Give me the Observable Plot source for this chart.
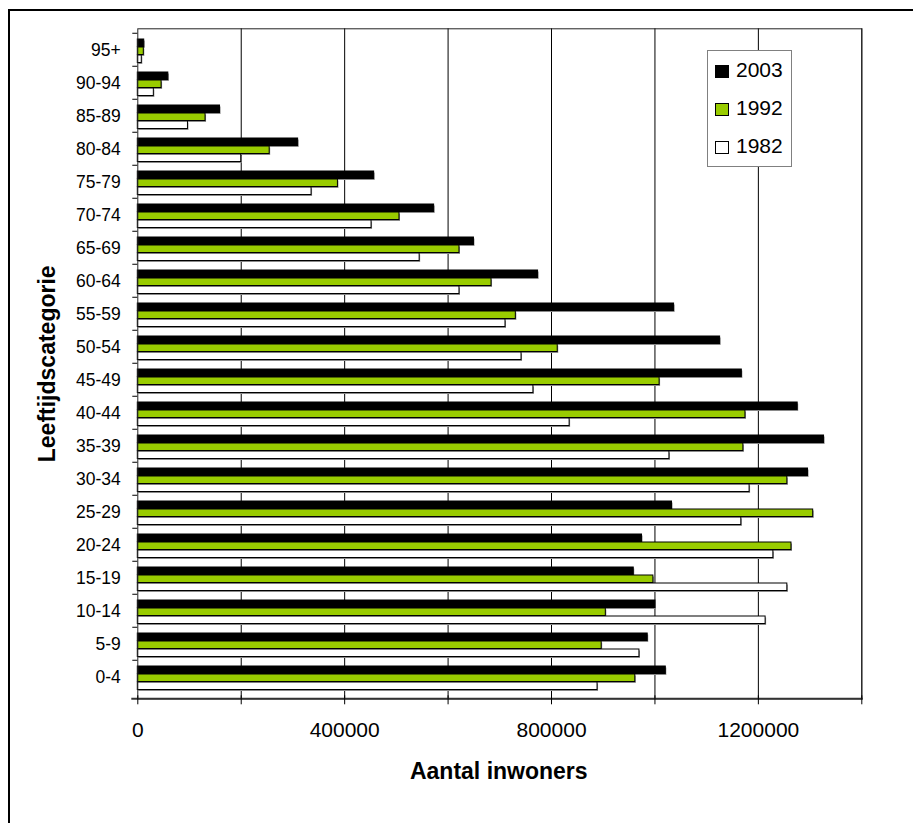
<!DOCTYPE html>
<html>
<head>
<meta charset="utf-8">
<script src="https://cdn.jsdelivr.net/npm/d3@7"></script>
<script src="https://cdn.jsdelivr.net/npm/@observablehq/plot@0.6"></script>
<style>
  html, body { margin: 0; padding: 0; background: #fff; overflow: hidden; }
  #chart { position: relative; width: 913px; height: 823px; font-family: "Liberation Sans", Arial, sans-serif; }
  #plot svg { display: block; }
  #border { position: absolute; left: 8px; top: 9px; width: 1000px; height: 1000px;
            border: 2.5px solid #000; box-sizing: border-box; pointer-events: none; }
  .legend { position: absolute; left: 707px; top: 50px; width: 85px; height: 117px;
            box-sizing: border-box; border: 1px solid #808080; background: #fff; }
  .legend .row { position: absolute; left: 0; height: 24px; line-height: 24px; font-size: 21px; color: #000; white-space: nowrap; }
  .legend .sw { position: absolute; left: 7px; top: 7px; width: 14px; height: 13px; box-sizing: border-box; border: 1px solid #000; }
  .legend .lab { position: absolute; left: 28px; top: 0; }
</style>
</head>
<body>
<div id="chart">
  <div id="plot"></div>
  <div class="legend" id="legend"></div>
  <div id="border"></div>
</div>
<script>
// Age groups, bottom to top
const ages = ["0-4", "5-9", "10-14", "15-19", "20-24", "25-29", "30-34", "35-39", "40-44", "45-49",
              "50-54", "55-59", "60-64", "65-69", "70-74", "75-79", "80-84", "85-89", "90-94", "95+"];

// Series, in the order they are stacked inside each age group (top to bottom)
const years = ["2003", "1992", "1982"];
const yearColors = ["#000000", "#99cc00", "#ffffff"];

// Number of inhabitants per age group
const pop2003 = [1021000, 986000, 1001000, 959000, 975000, 1033000, 1296000, 1327000, 1276000, 1168000,
                 1126000, 1037000, 774000, 650000, 573000, 457000, 310000, 159000, 59000, 12400];
const pop1992 = [962000, 897000, 905000, 997000, 1264000, 1306000, 1256000, 1171000, 1175000, 1009000,
                 812000, 731000, 684000, 622000, 506000, 387000, 255000, 131000, 46000, 11600];
const pop1982 = [889000, 970000, 1214000, 1256000, 1229000, 1167000, 1183000, 1028000, 835000, 765000,
                 742000, 711000, 622000, 545000, 452000, 336000, 200000, 97000, 31000, 7700];

// Axis ticks
const xTickLabels = [0, 400000, 800000, 1200000];
const xGrid = [200000, 400000, 600000, 800000, 1000000, 1200000, 1400000];
const xTicks = [0, ...xGrid];

const series = [pop2003, pop1992, pop1982];
const rows = years.map((year, k) => ages.map((age, i) => ({age, year, value: series[k][i]})));

// Layout
const W = 913, H = 823;
const mt = 28.3, mr = 51.7, mb = 124.7, ml = 137.3;
const step = (H - mt - mb) / ages.length;   // height of one age band
const lead = 6, barH = 8;                    // offset of the first bar and bar thickness

const barMarks = rows.flatMap((data, k) => {
  const inset = {insetTop: lead + barH * k, insetBottom: step - lead - barH * (k + 1)};
  return [
    Plot.barX(data, {y: "age", x: "value", fill: "#8a8a8a", dx: 1, dy: 1.5, ...inset}),
    Plot.barX(data, {y: "age", x: "value", fill: yearColors[k], stroke: "#000", strokeWidth: 1, ...inset})
  ];
});

const chart = Plot.plot({
  width: W,
  height: H,
  marginTop: mt,
  marginRight: mr,
  marginBottom: mb,
  marginLeft: ml,
  style: {fontFamily: '"Liberation Sans", Arial, sans-serif', color: "#000", background: "transparent", overflow: "visible"},
  x: {domain: [0, 1400000]},
  y: {domain: ages.slice().reverse(), padding: 0},
  marks: [
    Plot.ruleX(xGrid, {stroke: "#000", strokeWidth: 1}),
    ...barMarks,
    Plot.frame({stroke: "#222", strokeWidth: 1}),
    Plot.frame({anchor: "bottom", stroke: "#333", strokeWidth: 2, insetLeft: -5.5}),
    // category labels and boundary ticks
    Plot.axisY({tickSize: 0, tickPadding: 17, fontSize: 17.5, label: null}),
    Plot.axisY({tickSize: 5, fill: "none", stroke: "#000", dy: -step / 2, label: null}),
    // x ticks every 200000, labels every 400000
    Plot.axisX({ticks: xTicks, tickSize: 9, dy: -3, fill: "none", stroke: "#000", label: null}),
    Plot.axisX({ticks: xTickLabels, tickSize: 0, tickPadding: 23, fontSize: 21, tickFormat: d3.format("d"), label: null}),
    // axis titles
    Plot.text(["Leeftijdscategorie"], {text: d => d, frameAnchor: "left", rotate: -90, dx: -90.5,
      textAnchor: "middle", lineAnchor: "middle", fontSize: 23, fontWeight: "bold", fill: "#000"}),
    Plot.text(["Aantal inwoners"], {text: d => d, frameAnchor: "bottom", dy: 73, dx: -1,
      textAnchor: "middle", lineAnchor: "middle", fontSize: 23, fontWeight: "bold", fill: "#000"})
  ]
});
document.getElementById("plot").appendChild(chart);

// Legend
const legend = document.getElementById("legend");
years.forEach((year, k) => {
  const row = document.createElement("div");
  row.className = "row";
  row.style.top = (7.3 + 37.7 * k) + "px";
  const sw = document.createElement("span");
  sw.className = "sw";
  sw.style.background = yearColors[k];
  const lab = document.createElement("span");
  lab.className = "lab";
  lab.textContent = year;
  row.appendChild(sw);
  row.appendChild(lab);
  legend.appendChild(row);
});
</script>
</body>
</html>
